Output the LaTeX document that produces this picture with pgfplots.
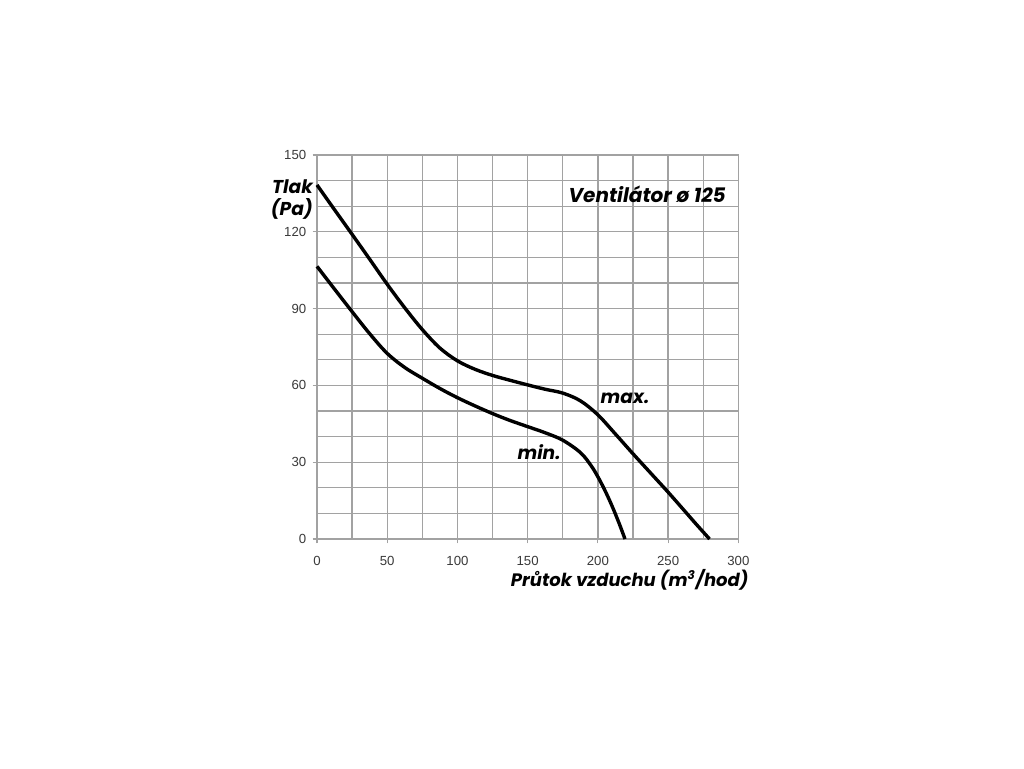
\documentclass[border=0pt]{standalone}
\usepackage{pgfplots}
\pgfplotsset{compat=1.18}
\usepackage{fontspec}
\setmainfont{Liberation Sans}
\newfontfamily\labfont{Poppins}
\definecolor{gridgray}{HTML}{A2A2A2}
\definecolor{ticktext}{HTML}{3A3A3A}

\begin{document}
\begin{tikzpicture}
\begin{axis}[
    scale only axis,
    width=210.65pt, height=192pt,
    xmin=0, xmax=300, ymin=0, ymax=150,
    xtick={0,50,...,300},
    ytick={0,30,...,150},
    minor xtick={25,75,...,275},
    minor ytick={10,20,40,50,70,80,100,110,130,140},
    grid=both,
    grid style={gridgray, line width=0.65pt},
    minor grid style={gridgray, line width=0.65pt},
    axis line style={gridgray, line width=0.65pt},
    tick style={gridgray, line width=0.6pt},
    major tick length=2.2pt, minor tick length=0pt,
    tick align=outside,
    xtick pos=bottom, ytick pos=left,
    /pgf/number format/assume math mode=true,
    tick label style={font=\fontsize{6.6}{7}\selectfont, text=ticktext, inner sep=0pt},
    xticklabel style={yshift=-6.2pt},
    yticklabel style={xshift=-3.0pt},
    clip=false,
]
\addplot[black, line width=1.7pt, smooth, tension=0.55] coordinates {
    (0,138.3) (12.5,128.6) (25,119) (37.5,109.3) (50,99.5) (62.5,90.3)
    (75,81.8) (87.5,74.6) (100,69.6) (112.5,66.3) (125,63.9) (137.5,62)
    (150,60.2) (162.5,58.5) (175,57) (187.5,54) (200,48.5)
    (212.5,41) (225,33.3) (237.5,25.8) (250,18.3) (262.5,10.5)
    (270,5.8) (279.5,0)
};
\addplot[black, line width=1.7pt, smooth, tension=0.55] coordinates {
    (0,106.5) (12.5,97.6) (25,88.8) (37.5,80.2) (50,72.5) (62.5,67)
    (75,62.8) (87.5,58.8) (100,55.2) (112.5,52) (125,49) (137.5,46.3)
    (150,43.9) (162.5,41.5) (175,38.6) (187.5,33.8) (195,28.8) (200,24.3)
    (205,19) (210,13) (215,6.3) (219.3,0)
};
\node[anchor=east, align=right, inner sep=0pt,
      font=\labfont\bfseries\itshape\fontsize{9.3}{11}\selectfont]
    at (rel axis cs:-0.009,0.885) {Tlak\\(Pa)};
\node[anchor=east, inner sep=0pt,
      font=\labfont\bfseries\itshape\fontsize{9.0}{11}\selectfont]
    at (rel axis cs:1.025,-0.107) {Průtok vzduchu (m\textsuperscript{3}/hod)};
\node[anchor=east, inner sep=0pt,
      font=\labfont\bfseries\itshape\fontsize{10}{12}\selectfont]
    at (rel axis cs:0.971,0.898) {Ventilátor ø 125};
\node[inner sep=0pt, font=\labfont\bfseries\itshape\fontsize{9.3}{11}\selectfont]
    at (rel axis cs:0.731,0.367) {max.};
\node[inner sep=0pt, font=\labfont\bfseries\itshape\fontsize{9.3}{11}\selectfont]
    at (rel axis cs:0.527,0.227) {min.};
\coordinate (bl) at (rel axis cs:-0.7524,-0.5964);
\coordinate (tr) at (rel axis cs:1.678,1.4036);
\end{axis}
\path[use as bounding box] (bl) rectangle (tr);
\end{tikzpicture}
\end{document}
